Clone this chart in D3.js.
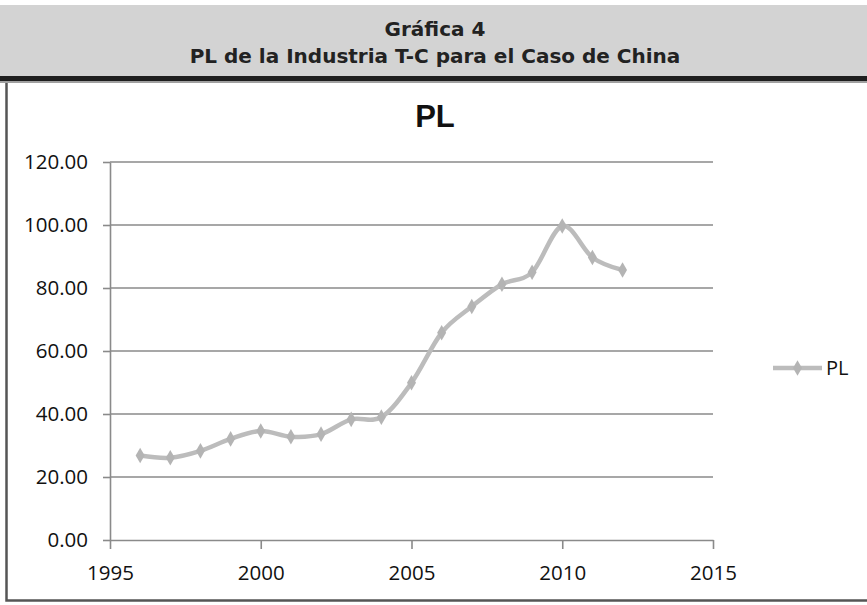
<!DOCTYPE html>
<html>
<head>
<meta charset="utf-8">
<script src="https://cdn.jsdelivr.net/npm/d3@7"></script>
<style>
  body { margin: 0; background: #fff; }
  svg { display: block; }
</style>
</head>
<body>
<div id="chart"></div>
<script>
// data
const years = [1996, 1997, 1998, 1999, 2000, 2001, 2002, 2003, 2004, 2005, 2006, 2007, 2008, 2009, 2010, 2011, 2012];
const plValues = [26.8, 26.1, 28.3, 32.1, 34.6, 32.8, 33.6, 38.3, 39.0, 49.9, 65.8, 74.1, 81.2, 85.0, 99.7, 89.7, 85.7];
const xTicks = [1995, 2000, 2005, 2010, 2015];
const yTicks = [0, 20, 40, 60, 80, 100, 120];
const headerLines = ['Gráfica 4', 'PL de la Industria T-C para el Caso de China'];
const chartTitle = 'PL';
const seriesName = 'PL';

const W = 867, H = 605;
const plot = { left: 110, right: 713, top: 162, bottom: 540 };

const svg = d3.select('#chart').append('svg')
  .attr('width', W)
  .attr('height', H);

// header band
svg.append('rect').attr('x', 0).attr('y', 5).attr('width', W).attr('height', 71).attr('fill', '#d3d3d3');
svg.append('rect').attr('x', 0).attr('y', 76).attr('width', W).attr('height', 5).attr('fill', '#1e1e1e');
svg.append('rect').attr('x', 0).attr('y', 81).attr('width', W).attr('height', 2).attr('fill', '#a0a0a0');

svg.selectAll('.hdr')
  .data(headerLines)
  .enter().append('text')
  .attr('class', 'hdr')
  .attr('x', 435)
  .attr('y', (d, i) => 36 + i * 27)
  .attr('text-anchor', 'middle')
  .attr('font-family', 'DejaVu Sans, sans-serif')
  .attr('font-weight', 'bold')
  .attr('font-size', 20)
  .attr('fill', '#222')
  .text(d => d);

// chart box, left and bottom edges
svg.append('path')
  .attr('d', 'M6.5,83 V600.5 H867')
  .attr('fill', 'none')
  .attr('stroke', '#555')
  .attr('stroke-width', 2.5);

// title
svg.append('text')
  .attr('x', 435)
  .attr('y', 127)
  .attr('text-anchor', 'middle')
  .attr('font-family', 'Liberation Sans, Arial, sans-serif')
  .attr('font-weight', 'bold')
  .attr('font-size', 31)
  .attr('fill', '#111')
  .text(chartTitle);

const x = d3.scaleLinear().domain([1995, 2015]).range([plot.left, plot.right]);
const y = d3.scaleLinear().domain([0, 120]).range([plot.bottom, plot.top]);

// gridlines
svg.append('g')
  .selectAll('line')
  .data(yTicks.filter(d => d > 0))
  .enter().append('line')
  .attr('x1', plot.left).attr('x2', plot.right)
  .attr('y1', d => y(d)).attr('y2', d => y(d))
  .attr('stroke', '#8a8a8a')
  .attr('stroke-width', 1.6);

const yAxis = svg.append('g')
  .attr('transform', 'translate(' + plot.left + ',0)')
  .call(d3.axisLeft(y).tickValues(yTicks).tickFormat(d3.format('.2f')).tickSize(7).tickSizeOuter(0).tickPadding(15));

const xAxis = svg.append('g')
  .attr('transform', 'translate(0,' + plot.bottom + ')')
  .call(d3.axisBottom(x).tickValues(xTicks).tickFormat(d3.format('d')).tickSize(9).tickSizeOuter(0).tickPadding(16));

[yAxis, xAxis].forEach(ax => {
  ax.select('.domain').attr('stroke', '#8a8a8a').attr('stroke-width', 1.6);
  ax.selectAll('.tick line').attr('stroke', '#8a8a8a').attr('stroke-width', 1.6);
  ax.selectAll('.tick text')
    .attr('fill', '#111')
    .attr('font-family', 'Open Sans, Noto Sans, sans-serif')
    .attr('font-size', 20.5);
});

// series
const pts = years.map((d, i) => ({ year: d, value: plValues[i] }));

const line = d3.line()
  .x(d => x(d.year))
  .y(d => y(d.value))
  .curve(d3.curveCardinal.tension(0));

svg.append('path')
  .datum(pts)
  .attr('d', line)
  .attr('fill', 'none')
  .attr('stroke', '#bcbcbc')
  .attr('stroke-width', 4.5)
  .attr('stroke-linejoin', 'round');

const diamond = d3.symbol().type(d3.symbolDiamond).size(70);

svg.append('g')
  .selectAll('path')
  .data(pts)
  .enter().append('path')
  .attr('transform', d => 'translate(' + x(d.year) + ',' + y(d.value) + ')')
  .attr('d', diamond)
  .attr('fill', '#b4b4b4');

// legend
const lg = svg.append('g').attr('transform', 'translate(773,368)');
lg.append('line').attr('x1', 0).attr('x2', 49).attr('y1', 0).attr('y2', 0)
  .attr('stroke', '#bcbcbc').attr('stroke-width', 4.5);
lg.append('path').attr('transform', 'translate(24.5,0)').attr('d', diamond).attr('fill', '#b4b4b4');
lg.append('text')
  .attr('x', 53)
  .attr('y', 7)
  .attr('font-family', 'Open Sans, Noto Sans, sans-serif')
  .attr('font-size', 20)
  .attr('fill', '#111')
  .text(seriesName);
</script>
</body>
</html>
